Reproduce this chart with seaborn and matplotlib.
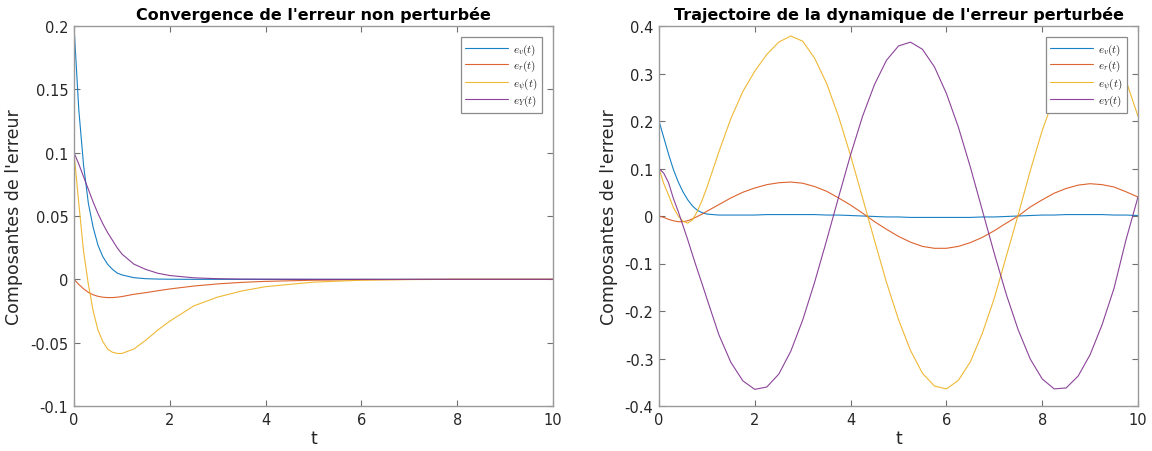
import numpy as np
import matplotlib
matplotlib.use('Agg')
import matplotlib.pyplot as plt
import seaborn as sns

# ---- left panel : non perturbed error ----
t_left = [0, 0.1, 0.2, 0.3, 0.4, 0.5, 0.6, 0.7, 0.8, 0.9, 1.0,
          1.25, 1.5, 1.75, 2.0, 2.5, 3.0, 3.5, 4.0, 5.0, 6.0, 7.0, 8.0, 9.0, 10.0]
ev_left = [0.2, 0.134, 0.090, 0.060, 0.041, 0.027, 0.018, 0.012, 0.008, 0.005, 0.0035,
           0.0013, 0.0005, 0.0002, 0.0001, 0, 0, 0, 0, 0, 0, 0, 0, 0, 0]
er_left = [0, -0.004, -0.0075, -0.0103, -0.0122, -0.0134, -0.0141, -0.0144, -0.0144, -0.0141, -0.0136,
           -0.0118, -0.0105, -0.0090, -0.0076, -0.0053, -0.0036, -0.0024, -0.0016, -0.0007, -0.0003,
           -0.0001, 0, 0, 0]
epsi_left = [0.1, 0.060, 0.022, -0.004, -0.025, -0.040, -0.049, -0.055, -0.0575, -0.0585, -0.0585,
             -0.055, -0.048, -0.040, -0.033, -0.021, -0.014, -0.0092, -0.0058, -0.0022, -0.0007,
             -0.0002, 0, 0, 0]
eY_left = [0.1, 0.091, 0.081, 0.071, 0.061, 0.052, 0.044, 0.037, 0.031, 0.025, 0.020,
           0.012, 0.0078, 0.0048, 0.003, 0.0012, 0.0005, 0.0002, 0.0001, 0, 0, 0, 0, 0, 0]

# ---- right panel : perturbed error ----
t_right = [0, 0.1, 0.2, 0.3, 0.4, 0.5, 0.6, 0.7, 0.8, 0.9, 1.0,
           1.25, 1.5, 1.75, 2.0, 2.25, 2.5, 2.75, 3.0, 3.25, 3.5, 3.75, 4.0,
           4.25, 4.5, 4.75, 5.0, 5.25, 5.5, 5.75, 6.0, 6.25, 6.5, 6.75, 7.0,
           7.25, 7.5, 7.75, 8.0, 8.25, 8.5, 8.75, 9.0, 9.25, 9.5, 9.75, 10.0]
ev_right = [0.2, 0.165, 0.130, 0.098, 0.072, 0.051, 0.034, 0.021, 0.012, 0.007, 0.004,
            0.002, 0.002, 0.002, 0.002, 0.003, 0.003, 0.003, 0.003, 0.003, 0.002, 0.002, 0.001,
            0.000, -0.001, -0.002, -0.002, -0.003, -0.003, -0.003, -0.003, -0.003, -0.003, -0.002, -0.002,
            -0.001, 0.000, 0.001, 0.002, 0.002, 0.003, 0.003, 0.003, 0.003, 0.002, 0.002, 0.001]
er_right = [0, -0.003, -0.007, -0.010, -0.012, -0.012, -0.010, -0.006, -0.001, 0.004, 0.010,
            0.024, 0.038, 0.050, 0.059, 0.066, 0.070, 0.0715, 0.069, 0.062, 0.052, 0.038, 0.023,
            0.006, -0.012, -0.028, -0.043, -0.055, -0.064, -0.068, -0.068, -0.064, -0.056, -0.045, -0.031,
            -0.015, 0.000, 0.019, 0.034, 0.048, 0.058, 0.065, 0.068, 0.066, 0.061, 0.051, 0.040]
epsi_right = [0.1, 0.068, 0.044, 0.018, 0.000, -0.011, -0.015, -0.008, 0.010, 0.033, 0.060,
              0.135, 0.205, 0.262, 0.305, 0.340, 0.366, 0.379, 0.368, 0.332, 0.279, 0.209, 0.127,
              0.038, -0.052, -0.140, -0.218, -0.283, -0.331, -0.358, -0.364, -0.346, -0.307, -0.247, -0.173,
              -0.085, 0.003, 0.095, 0.180, 0.250, 0.310, 0.352, 0.370, 0.365, 0.335, 0.285, 0.210]
eY_right = [0.1, 0.090, 0.070, 0.037, 0.010, -0.020, -0.050, -0.082, -0.113, -0.143, -0.174,
            -0.250, -0.308, -0.347, -0.365, -0.360, -0.333, -0.285, -0.219, -0.139, -0.051, 0.040, 0.129,
            0.210, 0.277, 0.328, 0.358, 0.366, 0.351, 0.314, 0.258, 0.187, 0.103, 0.012, -0.079,
            -0.165, -0.240, -0.301, -0.343, -0.364, -0.362, -0.337, -0.292, -0.229, -0.152, -0.050, 0.040]

labels = [r'$e_v(t)$', r'$e_r(t)$', r'$e_\psi(t)$', r'$e_Y(t)$']
colors = ['#0072BD', '#D95319', '#EDB120', '#7E2F8E']

titles = ["Convergence de l'erreur non perturbée",
          "Trajectoire de la dynamique de l'erreur perturbée"]
xticks = [0, 2, 4, 6, 8, 10]
yticks_left = [-0.1, -0.05, 0, 0.05, 0.1, 0.15, 0.2]
yticklabels_left = ['-0.1', '-0.05', '0', '0.05', '0.1', '0.15', '0.2']
yticks_right = [-0.4, -0.3, -0.2, -0.1, 0, 0.1, 0.2, 0.3, 0.4]
yticklabels_right = ['-0.4', '-0.3', '-0.2', '-0.1', '0', '0.1', '0.2', '0.3', '0.4']

sns.set_theme(style='white')
plt.rcParams['font.family'] = ['DejaVu Sans']
plt.rcParams['mathtext.fontset'] = 'cm'
plt.rcParams['axes.unicode_minus'] = False

fig = plt.figure(figsize=(11.52, 4.52), dpi=100)
ax1 = fig.add_axes([74 / 1152, 1 - 407 / 452, 479 / 1152, 380 / 452])
ax2 = fig.add_axes([659 / 1152, 1 - 407 / 452, 479 / 1152, 380 / 452])


def draw(ax, t, series, title, ylim, yticks, yticklabels):
    for vals, lab, c in zip(series, labels, colors):
        sns.lineplot(x=t, y=vals, color=c, lw=0.8, alpha=0.9, label=lab, ax=ax)
    ax.set_xlim(0, 10)
    ax.set_ylim(*ylim)
    ax.set_xticks(xticks)
    ax.set_xticklabels([str(v) for v in xticks])
    ax.set_yticks(yticks)
    ax.set_yticklabels(yticklabels)
    ax.tick_params(direction='in', length=4, width=0.8, color='#707070',
                   labelsize=10.5, labelcolor='#262626', top=True, right=True,
                   bottom=True, left=True, pad=4)
    for sp in ax.spines.values():
        sp.set_color('#9a9a9a')
        sp.set_linewidth(1.0)
    ax.set_title(title, fontsize=11.5, fontweight='bold', color='black', pad=5)
    ax.set_xlabel('t', fontsize=12.5, color='#262626', labelpad=2)
    ax.set_ylabel("Composantes de l'erreur", fontsize=12.5, color='#262626', labelpad=5)
    leg = ax.legend(loc='upper right', fontsize=8, frameon=True, fancybox=False,
                    edgecolor='#8a8a8a', framealpha=1, borderaxespad=1.0,
                    handlelength=3.9, handletextpad=0.4, labelspacing=0.12,
                    borderpad=0.4)
    leg.get_frame().set_linewidth(0.9)


draw(ax1, t_left, [ev_left, er_left, epsi_left, eY_left], titles[0],
     (-0.1, 0.2), yticks_left, yticklabels_left)
draw(ax2, t_right, [ev_right, er_right, epsi_right, eY_right], titles[1],
     (-0.4, 0.4), yticks_right, yticklabels_right)

fig.savefig('out.png', dpi=100)
